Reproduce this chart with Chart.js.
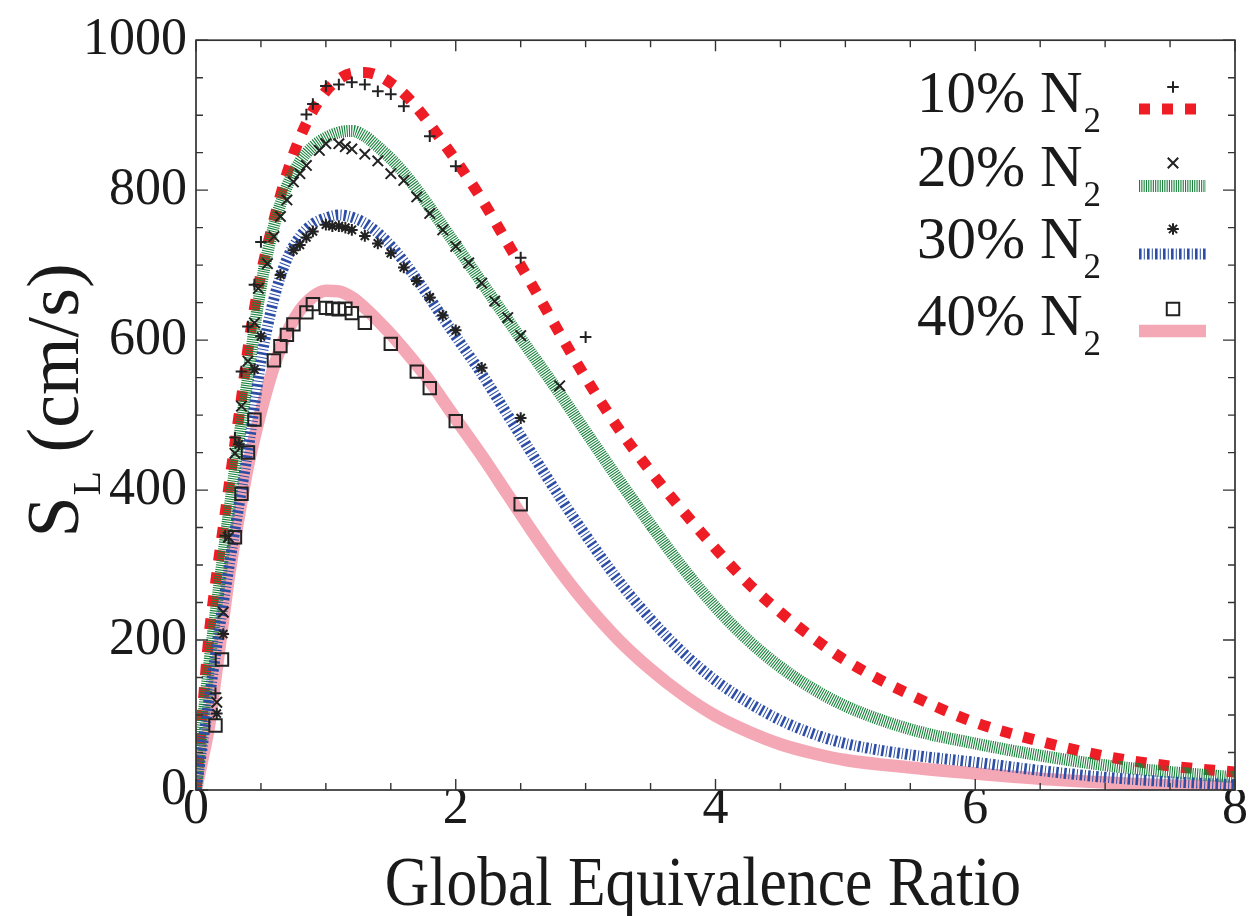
<!DOCTYPE html>
<html>
<head>
<meta charset="utf-8">
<script src="https://cdn.jsdelivr.net/npm/chart.js@4/dist/chart.umd.min.js"></script>
<style>
  html, body { margin: 0; padding: 0; background: #fff; }
  canvas { display: block; }
</style>
</head>
<body>
<canvas id="flameChart" width="1254" height="916"></canvas>
<script>
// model curves, all sampled on the same equivalence ratio grid
const modelPhi = [0, 0.05, 0.1, 0.15, 0.2, 0.25, 0.3, 0.35, 0.4, 0.45, 0.5, 0.6, 0.7, 0.8, 0.9, 1.0, 1.1, 1.2, 1.3, 1.4,
  1.5, 1.6, 1.7, 1.8, 1.9, 2.0, 2.2, 2.4, 2.6, 2.8, 3.0, 3.25, 3.5, 3.75, 4.0, 4.25, 4.5, 4.75, 5.0, 5.5,
  6.0, 6.5, 7.0, 7.5, 8.0];
const model10 = [0, 105, 205, 275, 338, 400, 462, 522, 588, 642, 688, 760, 822, 870, 906, 932, 948, 956, 957, 953,
  943, 929, 910, 888, 864, 840, 788, 729, 670, 609, 550, 483, 425, 372, 322, 276, 237, 203, 173, 127,
  90, 65, 45, 32, 24];
const model20 = [0, 85, 165, 235, 300, 365, 428, 490, 550, 615, 672, 752, 805, 838, 858, 870, 877, 879, 872, 858,
  842, 823, 801, 777, 752, 727, 677, 627, 578, 529, 478, 415, 354, 296, 244, 200, 164, 135, 112, 81,
  62, 46, 33, 24, 17];
const model30 = [0, 60, 120, 180, 238, 293, 347, 400, 452, 512, 572, 655, 708, 738, 755, 763, 767, 764, 756, 743,
  726, 705, 681, 656, 630, 605, 555, 500, 445, 391, 340, 280, 228, 183, 146, 117, 93, 75, 62, 47,
  37, 26, 17, 11, 7];
const model40 = [0, 42, 85, 150, 215, 280, 335, 385, 432, 470, 505, 565, 610, 640, 658, 666, 665, 657, 643, 626,
  608, 588, 567, 545, 520, 495, 446, 394, 342, 293, 249, 201, 161, 127, 99, 78, 61, 49, 40, 30,
  22, 15, 10, 6, 4];

// measured flame speeds
const expPhi10 = [0.15, 0.225, 0.3, 0.35, 0.4, 0.45, 0.5, 0.85, 0.9, 1.0, 1.1, 1.2, 1.3, 1.4, 1.5, 1.6, 1.8, 2.0, 2.5, 3.0];
const exp10 = [129, 339, 470, 558, 618, 674, 731, 901, 915, 939, 941, 944, 941, 932, 928, 912, 872, 832, 710, 604];
const expPhi20 = [0.16, 0.21, 0.25, 0.3, 0.35, 0.4, 0.45, 0.48, 0.55, 0.6, 0.65, 0.7, 0.75, 0.8, 0.85, 0.95, 1.0,
  1.1, 1.15, 1.2, 1.3, 1.4, 1.5, 1.6, 1.7, 1.8, 1.9, 2.0, 2.1, 2.2, 2.3, 2.4, 2.5, 2.8];
const exp20 = [117, 237, 337, 449, 512, 572, 623, 669, 702, 738, 765, 787, 811, 822, 833, 853, 862,
  862, 858, 855, 848, 839, 822, 813, 791, 769, 747, 725, 703, 676, 652, 630, 606, 539];
const expPhi30 = [0.16, 0.21, 0.33, 0.45, 0.5, 0.65, 0.75, 0.8, 0.85, 0.9, 1.0, 1.05, 1.1, 1.15, 1.2, 1.3, 1.4,
  1.5, 1.6, 1.7, 1.8, 1.9, 2.0, 2.2, 2.5];
const exp30 = [102, 208, 461, 561, 605, 687, 720, 727, 737, 745, 754, 752, 752, 750, 747, 739, 729,
  716, 697, 679, 657, 633, 613, 563, 496];
const expPhi40 = [0.15, 0.2, 0.3, 0.35, 0.4, 0.45, 0.6, 0.65, 0.7, 0.75, 0.85, 0.9, 1.0, 1.05, 1.1, 1.15, 1.2,
  1.3, 1.5, 1.7, 1.8, 2.0, 2.5];
const exp40 = [86, 174, 337, 395, 450, 494, 573, 592, 607, 621, 637, 648, 643, 642, 641, 642, 636,
  623, 595, 558, 536, 492, 381];

const legendLabels = ['10% N', '20% N', '30% N', '40% N'];
const xTickLabels = ['0', '2', '4', '6', '8'];
const yTickLabels = ['0', '200', '400', '600', '800', '1000'];

const SERIF = '"Liberation Serif", "Times New Roman", serif';
const INK = '#1a1a1a';

const toPoints = (xs, ys) => xs.map((v, i) => ({x: v, y: ys[i]}));

// line looks, also used for the legend swatches
const curveStyles = [
  {color: '#ee1c25', width: 11, dash: [11, 12]},
  {color: '#17823a', width: 12, dash: [1.1, 1.2]},
  {color: '#2d4ea6', width: 11, dash: [2.6, 2.2, 1, 2.2]},
  {color: '#f4a8b5', width: 12.5, dash: []}
];
const markerStyles = [
  {pointStyle: 'cross', radius: 5.8},
  {pointStyle: 'crossRot', radius: 7.4},
  {pointStyle: 'star', radius: 5.8},
  {pointStyle: 'rect', radius: 8.8}
];

const modelSets = [model10, model20, model30, model40];
const expSets = [[expPhi10, exp10], [expPhi20, exp20], [expPhi30, exp30], [expPhi40, exp40]];

// draw order: markers on top, then blue, green, red, pink underneath
const curveOrder = [3, 2, 1, 4];

const datasets = [];
modelSets.forEach((ys, i) => {
  const s = curveStyles[i];
  datasets.push({
    label: legendLabels[i] + '2 model',
    data: toPoints(modelPhi, ys),
    showLine: true,
    borderColor: s.color,
    borderWidth: s.width,
    borderDash: s.dash,
    borderCapStyle: 'butt',
    cubicInterpolationMode: 'monotone',
    pointRadius: 0,
    order: curveOrder[i]
  });
});
expSets.forEach(([xs, ys], i) => {
  const m = markerStyles[i];
  datasets.push({
    label: legendLabels[i] + '2 data',
    data: toPoints(xs, ys),
    showLine: false,
    pointStyle: m.pointStyle,
    pointRadius: m.radius,
    pointBorderColor: '#222',
    pointBackgroundColor: 'rgba(0,0,0,0)',
    pointBorderWidth: 2,
    order: 0
  });
});

// box with inward ticks on all four sides
const frameTicks = {
  id: 'frameTicks',
  afterDatasetsDraw(chart) {
    const {ctx, chartArea: a, scales: {x, y}} = chart;
    ctx.save();
    ctx.strokeStyle = '#333';
    ctx.lineWidth = 1.7;
    ctx.strokeRect(a.left, a.top, a.right - a.left, a.bottom - a.top);
    ctx.lineWidth = 1.4;
    ctx.beginPath();
    for (let v = 0; v <= 8; v += 0.5) {
      const px = x.getPixelForValue(v);
      const len = v % 2 === 0 ? 11 : 7;
      ctx.moveTo(px, a.bottom); ctx.lineTo(px, a.bottom - len);
      ctx.moveTo(px, a.top); ctx.lineTo(px, a.top + len);
    }
    for (let v = 0; v <= 1000; v += 50) {
      const py = y.getPixelForValue(v);
      const len = v % 200 === 0 ? 12 : 7;
      ctx.moveTo(a.left, py); ctx.lineTo(a.left + len, py);
      ctx.moveTo(a.right, py); ctx.lineTo(a.right - len, py);
    }
    ctx.stroke();
    ctx.restore();
  }
};

// text with a lowered subscript, returns the advance
function subText(ctx, main, sub, x, y, size, subSize, drop) {
  ctx.font = size + 'px ' + SERIF;
  ctx.fillText(main, x, y);
  const w = ctx.measureText(main).width;
  ctx.font = subSize + 'px ' + SERIF;
  ctx.fillText(sub, x + w + 1, y + drop);
  return w + 1 + ctx.measureText(sub).width;
}

const titlesAndKey = {
  id: 'titlesAndKey',
  afterDraw(chart) {
    const ctx = chart.ctx;
    ctx.save();
    ctx.fillStyle = INK;
    ctx.textBaseline = 'alphabetic';
    ctx.textAlign = 'left';

    // x title, slightly condensed
    ctx.save();
    ctx.font = '70px ' + SERIF;
    const xt = 'Global Equivalence Ratio';
    ctx.translate(703, 905);
    ctx.scale(0.88, 1);
    ctx.fillText(xt, -ctx.measureText(xt).width / 2, 0);
    ctx.restore();

    // y title S_L (cm/s)
    ctx.save();
    ctx.translate(78, 400);
    ctx.rotate(-Math.PI / 2);
    ctx.font = '74px ' + SERIF;
    const wS = ctx.measureText('S').width;
    ctx.font = '40px ' + SERIF;
    const wL = ctx.measureText('L').width;
    ctx.font = '74px ' + SERIF;
    const wRest = ctx.measureText(' (cm/s)').width;
    const x0 = -(wS + wL + 2 + wRest) / 2;
    const adv = subText(ctx, 'S', 'L', x0, 0, 74, 40, 22);
    ctx.font = '74px ' + SERIF;
    ctx.fillText(' (cm/s)', x0 + adv, 0);
    ctx.restore();

    // key
    const rows = [112, 186, 258, 335];
    const swatchY = [109, 186, 254, 331];
    const markY = [87, 163, 229, 309];
    rows.forEach((by, i) => {
      ctx.fillStyle = INK;
      subText(ctx, legendLabels[i], '2', 917, by, 59, 35, 20);

      const s = curveStyles[i];
      ctx.save();
      ctx.strokeStyle = s.color;
      ctx.lineWidth = s.width;
      ctx.lineCap = 'butt';
      ctx.setLineDash(s.dash);
      ctx.beginPath();
      ctx.moveTo(1139, swatchY[i]);
      ctx.lineTo(i === 0 ? 1196 : 1206, swatchY[i]);
      ctx.stroke();
      ctx.restore();

      ctx.save();
      ctx.strokeStyle = '#222';
      ctx.fillStyle = 'rgba(0,0,0,0)';
      ctx.lineWidth = 2;
      Chart.helpers.drawPoint(ctx, {
        pointStyle: markerStyles[i].pointStyle,
        radius: markerStyles[i].radius,
        rotation: 0,
        borderWidth: 2
      }, 1173, markY[i]);
      ctx.restore();
    });
    ctx.restore();
  }
};

const ctx = document.getElementById('flameChart').getContext('2d');
const flameChart = new Chart(ctx, {
  type: 'scatter',
  data: {datasets: datasets},
  options: {
    responsive: false,
    animation: false,
    events: [],
    layout: {padding: {top: 38, right: 19, left: 0, bottom: 0}},
    plugins: {legend: {display: false}, tooltip: {enabled: false}},
    scales: {
      x: {
        type: 'linear', min: 0, max: 8,
        grid: {display: false, drawTicks: false},
        border: {display: false},
        afterFit: (s) => { s.height = 126; },
        afterBuildTicks: (s) => { s.ticks = xTickLabels.map(t => ({value: +t})); },
        ticks: {
          color: INK, padding: -12, maxRotation: 0,
          font: {family: SERIF, size: 52},
          callback: (v, i) => xTickLabels[i]
        }
      },
      y: {
        type: 'linear', min: 0, max: 1000,
        grid: {display: false, drawTicks: false},
        border: {display: false},
        afterFit: (s) => { s.width = 196; },
        afterBuildTicks: (s) => { s.ticks = yTickLabels.map(t => ({value: +t})); },
        ticks: {
          color: INK, padding: 9,
          font: {family: SERIF, size: 52},
          callback: (v, i) => yTickLabels[i]
        }
      }
    }
  },
  plugins: [frameTicks, titlesAndKey]
});
</script>
</body>
</html>
